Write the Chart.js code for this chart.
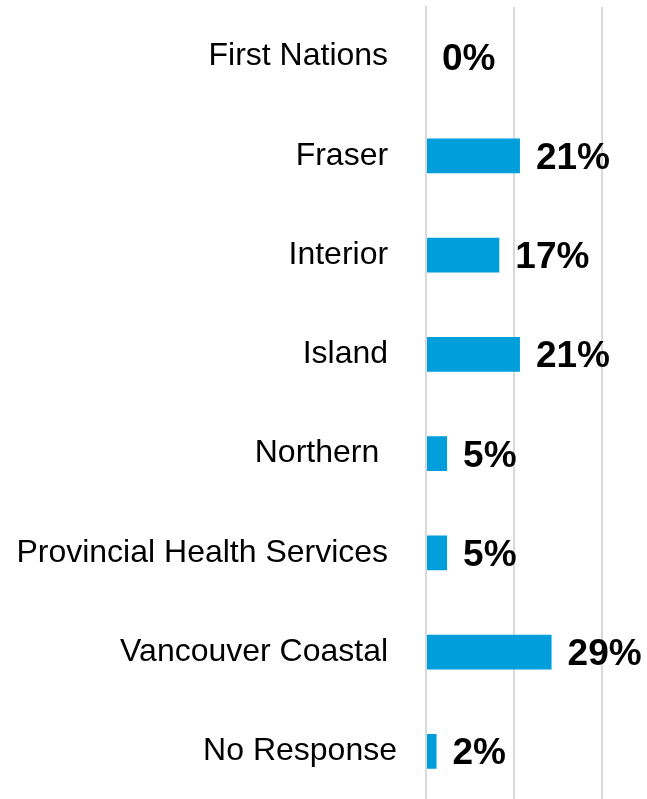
<!DOCTYPE html>
<html>
<head>
<meta charset="utf-8">
<script src="https://cdn.jsdelivr.net/npm/chart.js@4.4.1/dist/chart.umd.min.js"></script>
<style>
    html, body { margin: 0; padding: 0; background: #ffffff; overflow: hidden; }
    #wrap { position: relative; width: 647px; height: 801px; }
</style>
</head>
<body>
<div id="wrap"><canvas id="regionChart"></canvas></div>
<script>
// survey share by health authority (n = 42)
const categories = [
    'First Nations ',
    'Fraser ',
    'Interior ',
    'Island ',
    'Northern  ',
    'Provincial Health Services ',
    'Vancouver Coastal ',
    'No Response'
];
const shares = [0, 21.4, 16.7, 21.4, 4.8, 4.8, 28.6, 2.4];
const axisTicks = [0, 20, 40];

const valueLabels = {
    id: 'valueLabels',
    afterDatasetsDraw(chart) {
        const ctx = chart.ctx;
        const meta = chart.getDatasetMeta(0);
        ctx.save();
        ctx.font = 'bold 37px "Liberation Sans", Arial, sans-serif';
        ctx.fillStyle = '#000000';
        ctx.textAlign = 'left';
        ctx.textBaseline = 'alphabetic';
        meta.data.forEach(function (bar, i) {
            const text = Math.round(shares[i]) + '%';
            ctx.fillText(text, bar.x + 16, bar.y + 13);
        });
        ctx.restore();
    }
};

let regionCanvas = document.getElementById('regionChart');
let regionChart = new Chart(regionCanvas, {
    type: 'bar',
    data: {
        labels: categories,
        datasets: [{
            data: shares,
            backgroundColor: '#009EDB',
            borderWidth: 0,
            barPercentage: 0.352,
            categoryPercentage: 1
        }]
    },
    options: {
        indexAxis: 'y',
        responsive: true,
        maintainAspectRatio: false,
        animation: false,
        layout: {
            padding: { top: 7, right: 1.5, bottom: 0, left: 0 }
        },
        plugins: {
            legend: { display: false },
            tooltip: { enabled: false }
        },
        scales: {
            x: {
                min: 0,
                max: 50,
                afterBuildTicks: function (scale) {
                    scale.ticks = axisTicks.map(function (v) { return { value: v }; });
                },
                afterFit: function (scale) {
                    scale.height = 0;
                    scale.paddingLeft = 0;
                    scale.paddingRight = 0;
                },
                ticks: { display: false },
                border: { display: false },
                grid: {
                    color: '#d9d9d9',
                    lineWidth: 2,
                    drawTicks: false
                }
            },
            y: {
                afterFit: function (scale) {
                    scale.width = 426;
                    scale.paddingTop = 0;
                    scale.paddingBottom = 0;
                },
                border: { display: true, color: '#d9d9d9', width: 2 },
                grid: { display: false, drawTicks: false },
                ticks: {
                    color: '#000000',
                    padding: 29,
                    font: { family: '"Liberation Sans", Arial, sans-serif', size: 32 }
                }
            }
        }
    },
    plugins: [valueLabels]
});
</script>
</body>
</html>
